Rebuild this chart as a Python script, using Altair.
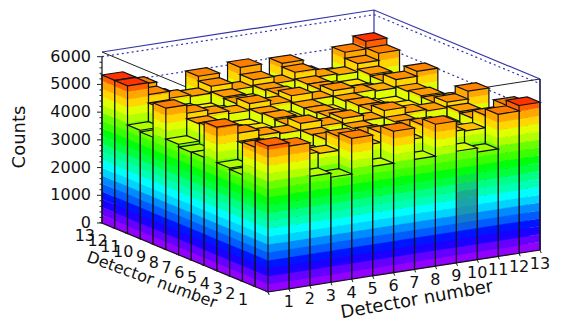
import colorsys
import altair as alt
import pandas as pd

# Bar heights: one list per detector on the left axis (1..13), values along the right axis (1..13)
row_01 = [5270, 5150, 3940, 3790, 5080, 3950, 5100, 3970, 5120, 4030, 3880, 5130, 5330]
row_02 = [5030, 4900, 4500, 4450, 4950, 4500, 4850, 4450, 4900, 4500, 4450, 4900, 5150]
row_03 = [3850, 4600, 4300, 4250, 4650, 4300, 4650, 4300, 4650, 4300, 4250, 4600, 4050]
row_04 = [3900, 4550, 4250, 4200, 4600, 4250, 4600, 4300, 4600, 4250, 4300, 4650, 4000]
row_05 = [5180, 4850, 4650, 4600, 4850, 4650, 4800, 4600, 4850, 4650, 4600, 4800, 5080]
row_06 = [3900, 4600, 4300, 4250, 4600, 4300, 4650, 4200, 4650, 4300, 4300, 4600, 4200]
row_07 = [3890, 4650, 4350, 4300, 4650, 4300, 4600, 4300, 4650, 4350, 4300, 4650, 4340]
row_08 = [3990, 4600, 4300, 4250, 4600, 4300, 4600, 4300, 4600, 4300, 4250, 4600, 4200]
row_09 = [5100, 4800, 4650, 4550, 4800, 4650, 4850, 4600, 4800, 4600, 4550, 4850, 5030]
row_10 = [3860, 4550, 4300, 4350, 4600, 4300, 4700, 4350, 4650, 4300, 4350, 4600, 4050]
row_11 = [3920, 4600, 4350, 4250, 4650, 4350, 4650, 4300, 4650, 4350, 4300, 4650, 4100]
row_12 = [5330, 4900, 4650, 4600, 4850, 4600, 4850, 4600, 4890, 4600, 4550, 4850, 5110]
row_13 = [5340, 5050, 4500, 4270, 5020, 4300, 5110, 4400, 5020, 4500, 4320, 5070, 5350]
rows = [row_01, row_02, row_03, row_04, row_05, row_06, row_07, row_08, row_09, row_10, row_11, row_12, row_13]

tick_labels = [str(n) for n in range(1, 14)]
z_ticks = [0, 1000, 2000, 3000, 4000, 5000, 6000]
z_max = 6170
z_colour_max = 5700
n_levels = 20
# Hue of a bar's top face, read at a few heights
top_heights = [3800, 3900, 4300, 4600, 5100, 5270, 5320]
top_hues = [85, 80, 53, 37, 30, 24, 12]
# Dulled patch on the front face of bar (10, 1): level -> strength
dull = {4: 0.15, 5: 0.35, 6: 0.5, 7: 0.55, 8: 0.5, 9: 0.3, 10: 0.15}

# Oblique view of the box (page pixels)
FRONT = (268.0, 292.0)
EX = (272.0 / 13, -42.0 / 13)
EY = (-166.0 / 13, -69.0 / 13)
KZ = 171.0 / z_max
M = 8


def proj(x, y, z=0.0):
    return [FRONT[0] + x * EX[0] + y * EY[0] - M, FRONT[1] + x * EX[1] + y * EY[1] - z * KZ - M]


def hue_rgb(hue):
    r, g, b = colorsys.hsv_to_rgb(hue / 360, 1, 1)
    return (r * 255, g * 255, b * 255)


def level_rgb(level):
    level = min(level, n_levels - 1)
    idx = int(level * 50 / n_levels)
    return hue_rgb(280 - (idx + 1) * 280 / 50)


def hex_of(rgb):
    return "#%02x%02x%02x" % tuple(round(v) for v in rgb)


def level_colour(level):
    return hex_of(level_rgb(level))


def top_colour(h):
    if h <= top_heights[0]:
        return hex_of(hue_rgb(top_hues[0]))
    for k in range(1, len(top_heights)):
        if h <= top_heights[k]:
            t = (h - top_heights[k - 1]) / (top_heights[k] - top_heights[k - 1])
            return hex_of(hue_rgb(top_hues[k - 1] + t * (top_hues[k] - top_hues[k - 1])))
    return hex_of(hue_rgb(top_hues[-1]))


def dulled(level, amount):
    grey = (50, 90, 105)
    return hex_of(tuple(c * (1 - amount) + g * amount for c, g in zip(level_rgb(level), grey)))


def poly(points, fill, stroke, width):
    ring = points + [points[0]]
    return {"type": "Feature", "geometry": {"type": "Polygon", "coordinates": [ring]},
            "properties": {"fill": fill, "stroke": stroke, "sw": width}}


def line(points, stroke, width):
    return {"type": "Feature", "geometry": {"type": "LineString", "coordinates": points},
            "properties": {"fill": "transparent", "stroke": stroke, "sw": width}}


BLUE = "#3434a8"
step = z_colour_max / n_levels

frame = [
    line([proj(0, 13, z_max), proj(13, 13, z_max), proj(13, 0, z_max)], BLUE, 1.2),
    line([proj(13, 13, z_max), proj(13, 13, 0)], BLUE, 1.2),
    line([proj(0, 13, z_max), proj(0, 0, z_max), proj(13, 0, z_max)], "#222222", 1.0),
]
dotted = []
for z in z_ticks[1:]:
    dotted.append(line([proj(0, 13, z), proj(13, 13, z), proj(13, 0, z)], BLUE, 1.2))

bars = []
order = sorted(((i, j) for i in range(13) for j in range(13)), key=lambda p: -(p[0] + p[1]))
for i, j in order:
    h = rows[j][i]
    top_level = int(h // step)
    for level in range(top_level + 1):
        z0, z1 = level * step, min((level + 1) * step, h)
        c = level_colour(level)
        bars.append(poly([proj(i, j, z0), proj(i, j + 1, z0), proj(i, j + 1, z1), proj(i, j, z1)], c, c, 0.3))
        f = dulled(level, dull[level]) if (i, j) == (9, 0) and level in dull else c
        bars.append(poly([proj(i, j, z0), proj(i + 1, j, z0), proj(i + 1, j, z1), proj(i, j, z1)], f, f, 0.3))
    bars.append(poly([proj(i, j, h), proj(i + 1, j, h), proj(i + 1, j + 1, h), proj(i, j + 1, h)],
                     top_colour(h), "#111111", 1.2))
    bars.append(line([proj(i, j + 1, h), proj(i, j + 1, 0), proj(i, j, 0), proj(i + 1, j, 0), proj(i + 1, j, h)], "#111111", 1.2))
    bars.append(line([proj(i, j, h), proj(i, j, 0)], "#111111", 1.2))

ticks = [line([proj(0, 13, 0), proj(0, 13, z_ticks[-1])], "#111111", 1.2),
         line([proj(13, 0, 0), proj(13, 0, z_max)], "#14144a", 1.6)]
for k in range(0, 31):
    z = k * 200
    left = proj(0, 13, z)
    ticks.append(line([[left[0] - (5 if k % 5 == 0 else 2.5), left[1]], left], "#222222", 1.0))
for n in range(0, 14):
    a = proj(n, 0, 0)
    ticks.append(line([a, [a[0] + 1.2, a[1] + 3]], "#222222", 1.0))
    b = proj(0, n, 0)
    ticks.append(line([b, [b[0] - 2.5, b[1] - 0.6]], "#222222", 1.0))

texts = []
for z in z_ticks:
    p = proj(0, 13, z)
    texts.append(dict(x=p[0] - 11, y=p[1], t=f"{z}", a="right", r=0, s=16))
for n, lab in enumerate(tick_labels, start=1):
    p = proj(n, 0, 0)
    texts.append(dict(x=p[0], y=p[1] + 13.5, t=lab, a="center", r=0, s=16))
    q = proj(0, n, 0)
    texts.append(dict(x=q[0] - 7, y=q[1] + 13, t=lab, a="right", r=0, s=16))
texts.append(dict(x=417 - M, y=300 - M, t="Detector number", a="center", r=350, s=18))
texts.append(dict(x=152 - M, y=280 - M, t="Detector number", a="center", r=20, s=16))
texts.append(dict(x=20 - M, y=137 - M, t="Counts", a="center", r=270, s=18))

W, H = 565, 311


def shape_layer(features, **mark):
    return alt.Chart(alt.Data(values=features)).mark_geoshape(**mark).encode(
        fill=alt.Fill("properties.fill:N", scale=None),
        stroke=alt.Stroke("properties.stroke:N", scale=None),
        strokeWidth=alt.StrokeWidth("properties.sw:Q", scale=None),
    ).project(type="identity", scale=1, translate=[0, 0])


def text_layer(df, align, fontsize):
    return alt.Chart(df).mark_text(font="DejaVu Sans", fontSize=fontsize, align=align, baseline="middle", color="#111111").encode(
        x=alt.X("x:Q", scale=alt.Scale(domain=[0, W], range=[0, W], nice=False, zero=False), axis=None),
        y=alt.Y("y:Q", scale=alt.Scale(domain=[0, H], range=[0, H], nice=False, zero=False), axis=None),
        text="t:N",
        angle=alt.Angle("r:Q", scale=None),
    )


df = pd.DataFrame(texts)
layers = [shape_layer(dotted, strokeDash=[2, 3]), shape_layer(frame), shape_layer(bars), shape_layer(ticks)]
for (a, s), g in df.groupby(["a", "s"]):
    layers.append(text_layer(g, a, int(s)))

chart = alt.layer(*layers).properties(width=W, height=H, padding=0, autosize=alt.AutoSizeParams(type="none")).configure_view(stroke=None)
chart.save("out.html", embed_options={"renderer": "svg", "actions": False})
